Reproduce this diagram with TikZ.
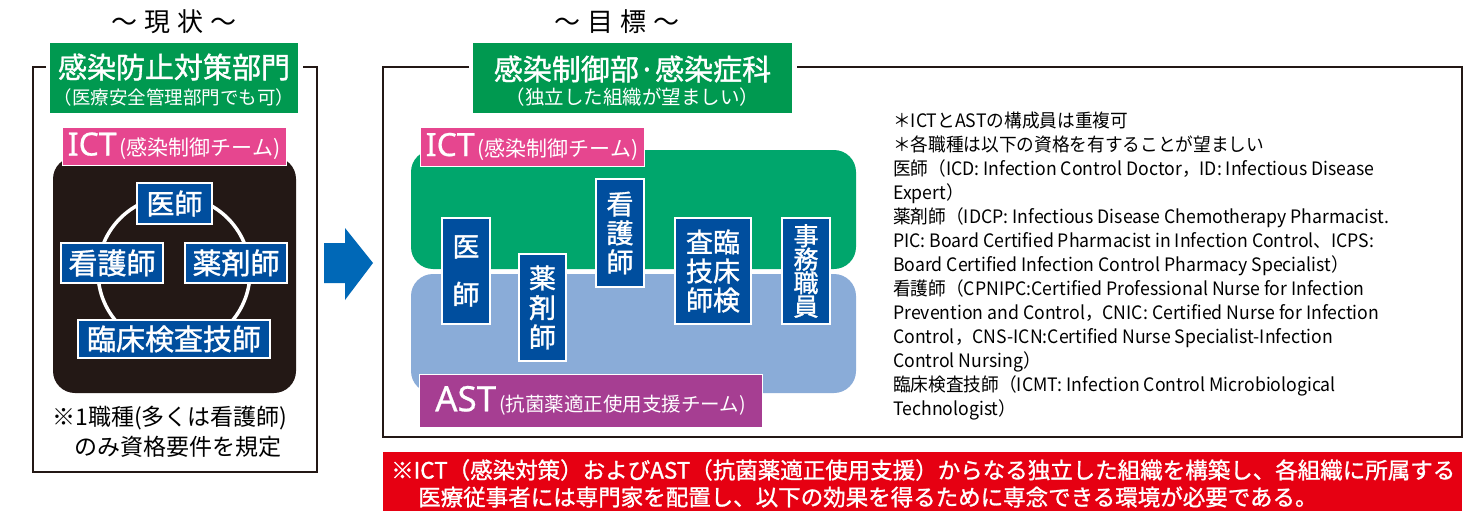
\documentclass[tikz,border=0pt]{standalone}
\usepackage{fontspec}
\setmainfont{Noto Sans CJK JP}
\newfontfamily\latinf{Noto Sans}[FakeBold=0.6]
\newfontfamily\medf{Noto Sans CJK JP}[FakeBold=1.2]
\newfontfamily\notef{Noto Sans CJK JP}[FakeStretch=0.955]
\newcommand\fsz[1]{\fontsize{#1}{#1}\selectfont}
\definecolor{hdrgreen}{RGB}{0,153,80}
\definecolor{ictgreen}{RGB}{0,166,108}
\definecolor{pinkC}{RGB}{230,70,143}
\definecolor{blueC}{RGB}{0,78,158}
\definecolor{lightblue}{RGB}{138,172,216}
\definecolor{purpleC}{RGB}{166,62,146}
\definecolor{darkbox}{RGB}{35,24,21}
\definecolor{arrowblue}{RGB}{0,104,183}
\definecolor{redC}{RGB}{230,0,18}
\definecolor{frameC}{RGB}{35,24,21}
\tikzset{
  x=1pt,y=-1pt,
  frame/.style={draw=frameC,line width=2.2pt},
  hdrbox/.style={fill=hdrgreen,draw=none,inner sep=0pt},
  whitetext/.style={text=white,inner sep=0pt},
  pinkbox/.style={fill=pinkC,draw=white,line width=1pt,inner sep=0pt,text=white},
  bluebox/.style={fill=blueC,draw=white,line width=1.2pt,inner sep=0pt,text=white},
  vbox/.style={fill=blueC,draw=white,line width=1.2pt,inner sep=0pt,text=white,align=center},
  plain/.style={inner sep=0pt,text=black},
}
\begin{document}
\begin{tikzpicture}
\useasboundingbox[fill=white] (0,0) rectangle (1481,511);

% ---------------- left panel ----------------
\node[plain] (ttlL) at (174,22) {\fsz{26}～\hspace{7pt}現\hspace{7pt}状\hspace{7pt}～};
\draw[frame] (46,67) -- (33,67) -- (33,472) -- (317,472) -- (317,67) -- (303,67);
\node[hdrbox,minimum width=248,minimum height=70] (hdrL) at (174,78) {};
\node[whitetext] (hdrL1) at (174,67) {\medf\fsz{29}感染防止対策部門};
\node[whitetext] (hdrL2) at (174,97) {\fsz{18.5}（医療安全管理部門でも可）};

\fill[darkbox,rounded corners=22] (53,157) rectangle (296,393);
\node[pinkbox,minimum width=224,minimum height=38] (ictL) at (174,146)
  {{\latinf\fsz{32}ICT}\hspace{3pt}{\fsz{21}(感染制御チーム)}};

\draw[white,line width=3.5pt] (174,272) circle[radius=76];
\node[bluebox,minimum width=75,minimum height=41] (isiL) at (174.5,203.5) {\medf\fsz{28}医師};
\node[bluebox,minimum width=102,minimum height=40] (kangoL) at (112,263) {\medf\fsz{29}看護師};
\node[bluebox,minimum width=102,minimum height=40] (yakuL) at (236,263) {\medf\fsz{29}薬剤師};
\node[bluebox,minimum width=192,minimum height=38] (rinshoL) at (174,339) {\medf\fsz{29}臨床検査技師};

\node[plain] (noteL1) at (170,418) {\fsz{23}※1職種(多くは看護師)};
\node[plain] (noteL2) at (178,447) {\fsz{23}のみ資格要件を規定};

% ---------------- arrow ----------------
\fill[arrowblue] (324,243) -- (345,243) -- (345,228) -- (373,263) -- (345,300) -- (345,283) -- (324,283) -- cycle;

% ---------------- right panel ----------------
\node[plain] (ttlR) at (617,22) {\fsz{26}～\hspace{7pt}目\hspace{7pt}標\hspace{7pt}～};
\draw[frame] (469,67) -- (383,67) -- (383,437) -- (1462,437) -- (1462,67) -- (797,67);
\node[hdrbox,minimum width=319,minimum height=70] (hdrR) at (632.5,78) {};
\node[whitetext] (hdrR1) at (632.5,69) {\medf\fsz{29}感染制御部·感染症科};
\node[whitetext] (hdrR2) at (632.5,97) {\fsz{19.5}（独立した組織が望ましい）};

\fill[ictgreen,rounded corners=22] (411,150) rectangle (856,269);
\fill[lightblue,rounded corners=22] (411,274) rectangle (856,393);
\draw[white,line width=1.5pt] (411,271.5) -- (856,271.5);

\node[pinkbox,minimum width=224,minimum height=39] (ictR) at (532,146.5)
  {{\latinf\fsz{32}ICT}\hspace{3pt}{\fsz{21}(感染制御チーム)}};

\node[vbox,minimum width=48,minimum height=106,font=\medf\fontsize{27}{48}\selectfont] (isiR) at (466,271) {医\\師};
\node[vbox,minimum width=47,minimum height=107,font=\medf\fontsize{27}{29.5}\selectfont] (yakuR) at (542.5,307.5) {薬\\剤\\師};
\node[vbox,minimum width=48,minimum height=108,font=\medf\fontsize{27}{29}\selectfont] (kangoR) at (620,233) {看\\護\\師};
\node[vbox,minimum width=76,minimum height=106,font=\medf\fontsize{27}{29}\selectfont] (rinshoR) at (713,271) {査臨\\技床\\師検};
\node[vbox,minimum width=48,minimum height=106,font=\medf\fontsize{25}{23.5}\selectfont] (jimuR) at (806,271) {事\\務\\職\\員};

\node[fill=purpleC,draw=white,line width=1pt,inner sep=0pt,text=white,minimum width=343,minimum height=53] (astR) at (590.5,400.5)
  {{\latinf\fsz{35}AST}\hspace{3pt}{\fsz{19.5}(抗菌薬適正使用支援チーム)}};

\node[plain,anchor=north west,align=left,font=\notef\fontsize{18.5}{24}\selectfont] (notesR) at (893,112)
{＊ICTとASTの構成員は重複可\\
＊各職種は以下の資格を有することが望ましい\\
医師（ICD: Infection Control Doctor，ID: Infectious Disease\\
Expert）\\
薬剤師（IDCP: Infectious Disease Chemotherapy Pharmacist.\\
PIC: Board Certified Pharmacist in Infection Control、ICPS:\\
Board Certified Infection Control Pharmacy Specialist）\\
看護師（CPNIPC:Certified Professional Nurse for Infection\\
Prevention and Control，CNIC: Certified Nurse for Infection\\
Control，CNS-ICN:Certified Nurse Specialist-Infection\\
Control Nursing）\\
臨床検査技師（ICMT: Infection Control Microbiological\\
Technologist）};

% ---------------- bottom red box ----------------
\fill[redC] (383,452) rectangle (1462,511);
\node[whitetext,anchor=west] (redL1) at (391,470) {\medf\fsz{22.5}※ICT（感染対策）およびAST（抗菌薬適正使用支援）からなる独立した組織を構築し、各組織に所属する};
\node[whitetext,anchor=west] (redL2) at (418,497) {\medf\fsz{22.5}医療従事者には専門家を配置し、以下の効果を得るために専念できる環境が必要である。};
\end{tikzpicture}
\end{document}
